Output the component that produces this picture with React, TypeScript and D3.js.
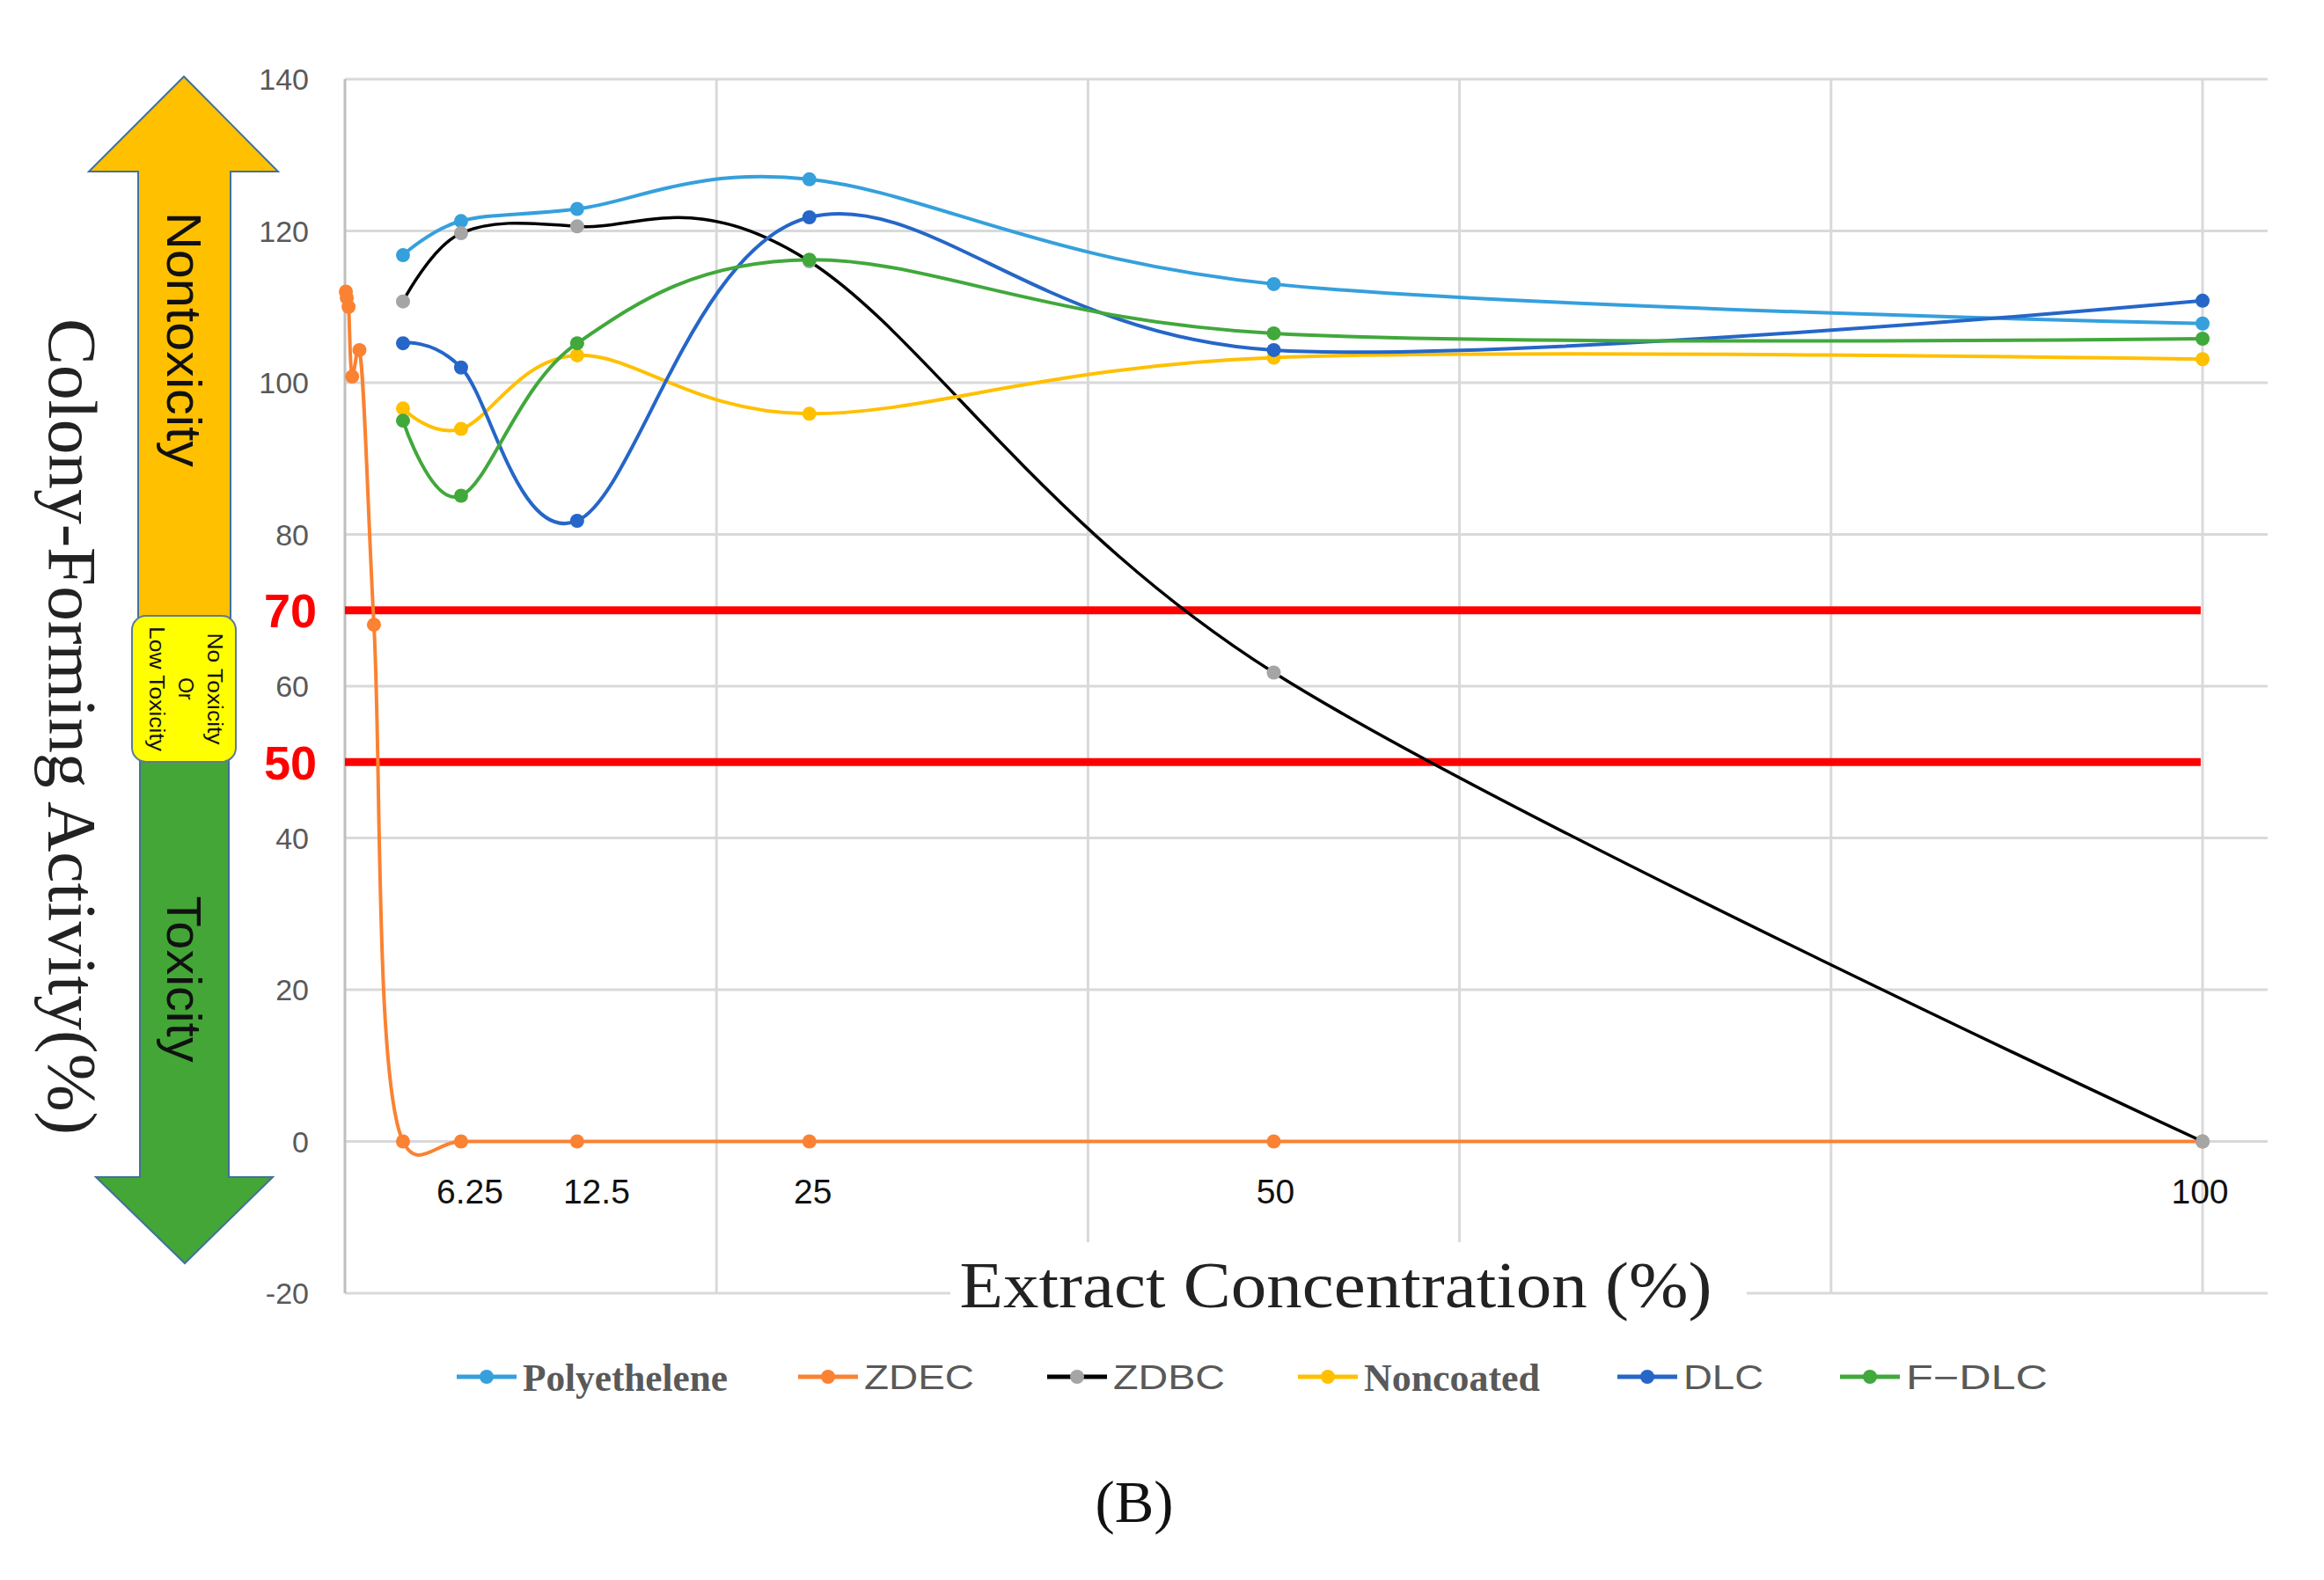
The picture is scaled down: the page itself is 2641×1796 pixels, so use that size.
import { useEffect, useRef } from "react"
import * as d3 from "d3"

// concentrations (%) shared by the test materials
const concentrations = [3.125, 6.25, 12.5, 25, 50, 100]
const polyethelene = [116.8, 121.3, 122.9, 126.8, 113.0, 107.8]
const zdbc = [110.7, 119.7, 120.6, 116.0, 61.8, 0]
const noncoated = [96.6, 93.9, 103.6, 95.9, 103.3, 103.1]
const dlc = [105.2, 102.0, 81.8, 121.8, 104.3, 110.8]
const fdlc = [95.0, 85.1, 105.2, 116.2, 106.5, 105.8]

// ZDEC was also tested at the low dilutions
const zdecConcentrations = [0.049, 0.098, 0.195, 0.39, 0.78, 1.56, 3.125, 6.25, 12.5, 25, 50, 100]
const zdec = [112.0, 111.2, 110.0, 100.8, 104.3, 68.1, 0, 0, 0, 0, 0, 0]

const yTicks = [-20, 0, 20, 40, 60, 80, 100, 120, 140]
const xGrid = [0, 20, 40, 60, 80, 100]
const xLabels = ["6.25", "12.5", "25", "50", "100"]
const thresholds = [70, 50]

const W = 2641
const H = 1796

export default function App() {
  const svgRef = useRef<SVGSVGElement>(null)

  useEffect(() => {
    if (!svgRef.current) return
    const svg = d3.select(svgRef.current)
    svg.selectAll("*").remove()

    const x = d3.scaleLinear().domain([0, 100]).range([392, 2503])
    const y = d3.scaleLinear().domain([-20, 140]).range([1470, 90])
    const xRight = x(103.5)

    const sans = "'Liberation Sans', Arial, sans-serif"
    const serif = "'Liberation Serif', 'Times New Roman', serif"

    // gridlines
    const grid = svg.append("g")
    grid.selectAll("line.h")
      .data(yTicks)
      .enter()
      .append("line")
      .attr("x1", x(0))
      .attr("x2", xRight)
      .attr("y1", d => y(d))
      .attr("y2", d => y(d))
      .attr("stroke", "#d9d9d9")
      .attr("stroke-width", 3)
    grid.selectAll("line.v")
      .data(xGrid)
      .enter()
      .append("line")
      .attr("x1", d => x(d))
      .attr("x2", d => x(d))
      .attr("y1", y(140))
      .attr("y2", y(-20))
      .attr("stroke", d => d === 0 ? "#bfbfbf" : "#d9d9d9")
      .attr("stroke-width", 3)

    // y tick labels
    svg.append("g")
      .selectAll("text")
      .data(yTicks)
      .enter()
      .append("text")
      .attr("x", 351)
      .attr("y", d => y(d))
      .attr("dy", "0.36em")
      .attr("text-anchor", "end")
      .attr("fill", "#595959")
      .style("font-family", sans)
      .style("font-size", "34px")
      .text(d => d)

    // red threshold lines and labels
    svg.append("g")
      .selectAll("line")
      .data(thresholds)
      .enter()
      .append("line")
      .attr("x1", x(0))
      .attr("x2", x(99.9))
      .attr("y1", d => y(d))
      .attr("y2", d => y(d))
      .attr("stroke", "#ff0000")
      .attr("stroke-width", 9)
    svg.append("g")
      .selectAll("text")
      .data(thresholds)
      .enter()
      .append("text")
      .attr("x", 360)
      .attr("y", d => y(d))
      .attr("dy", "0.36em")
      .attr("text-anchor", "end")
      .attr("fill", "#ff0000")
      .style("font-family", sans)
      .style("font-weight", "bold")
      .style("font-size", "54px")
      .text(d => d)

    // x labels (text boxes under the zero line)
    const labelNudge = [10, 22, 4, 2, -3]
    svg.append("g")
      .selectAll("text")
      .data(xLabels)
      .enter()
      .append("text")
      .attr("x", (d, i) => x(+d) + labelNudge[i])
      .attr("y", 1368)
      .attr("text-anchor", "middle")
      .attr("fill", "#111")
      .style("font-family", sans)
      .style("font-size", "39px")
      .text(d => d)

    // x title with white box behind it
    svg.append("rect")
      .attr("x", 1080)
      .attr("y", 1412)
      .attr("width", 905)
      .attr("height", 110)
      .attr("fill", "white")
    svg.append("text")
      .attr("x", 1518)
      .attr("y", 1486)
      .attr("text-anchor", "middle")
      .attr("fill", "#222")
      .attr("textLength", 855)
      .attr("lengthAdjust", "spacingAndGlyphs")
      .style("font-family", serif)
      .style("font-size", "75px")
      .text("Extract Concentration (%)")

    // series (smoothed like the spreadsheet lines)
    const smooth = d3.line<[number, number]>()
      .x(d => x(d[0]))
      .y(d => y(d[1]))
      .curve(d3.curveCardinal.tension(0))
    const smoothTight = d3.line<[number, number]>()
      .x(d => x(d[0]))
      .y(d => y(d[1]))
      .curve(d3.curveCatmullRom.alpha(0.3))

    const series = [
      { name: "Polyethelene", xs: concentrations, ys: polyethelene, line: "#35a0dc", marker: "#35a0dc", width: 4, gen: smooth },
      { name: "ZDEC", xs: zdecConcentrations, ys: zdec, line: "#fa8232", marker: "#fa8232", width: 4, gen: smoothTight },
      { name: "ZDBC", xs: concentrations, ys: zdbc, line: "#000000", marker: "#a5a5a5", width: 3.5, gen: smooth },
      { name: "Noncoated", xs: concentrations, ys: noncoated, line: "#ffc000", marker: "#ffc000", width: 4, gen: smooth },
      { name: "DLC", xs: concentrations, ys: dlc, line: "#2566c8", marker: "#2566c8", width: 4, gen: smooth },
      { name: "F\u2212DLC", xs: concentrations, ys: fdlc, line: "#41a83c", marker: "#41a83c", width: 4, gen: smooth },
    ]

    series.forEach(s => {
      const pts: [number, number][] = s.xs.map((c, i) => [c, s.ys[i]])
      const g = svg.append("g")
      g.append("path")
        .attr("d", s.gen(pts))
        .attr("fill", "none")
        .attr("stroke", s.line)
        .attr("stroke-width", s.width)
      g.selectAll("circle")
        .data(pts)
        .enter()
        .append("circle")
        .attr("cx", d => x(d[0]))
        .attr("cy", d => y(d[1]))
        .attr("r", 8)
        .attr("fill", s.marker)
    })

    // legend
    const legendX = [519, 907, 1190, 1475, 1838, 2091]
    const legendTextLen = [233, 125, 127, 200, 91, 161]
    const legendY = 1565
    series.forEach((s, i) => {
      const g = svg.append("g").attr("transform", `translate(${legendX[i]},${legendY})`)
      g.append("line")
        .attr("x1", 0)
        .attr("x2", 68)
        .attr("stroke", s.line)
        .attr("stroke-width", 5)
      g.append("circle").attr("cx", 34).attr("r", 8).attr("fill", s.marker)
      const isSerif = s.name === "Polyethelene" || s.name === "Noncoated"
      g.append("text")
        .attr("x", 75)
        .attr("y", 0)
        .attr("dy", "0.36em")
        .attr("fill", "#595959")
        .attr("textLength", legendTextLen[i])
        .attr("lengthAdjust", "spacingAndGlyphs")
        .style("font-family", isSerif ? serif : sans)
        .style("font-weight", isSerif ? "bold" : "normal")
        .style("font-size", isSerif ? "44px" : "38px")
        .text(s.name)
    })

    // toxicity arrow on the left
    const arrow = svg.append("g")
    arrow.append("path")
      .attr("d", "M157,702 L157,195 L101,195 L209,87 L316,195 L262,195 L262,702 Z")
      .attr("fill", "#ffc000")
      .attr("stroke", "#41719c")
      .attr("stroke-width", 2)
    arrow.append("path")
      .attr("d", "M159,864 L260,864 L260,1338 L310,1338 L210,1436 L109,1338 L159,1338 Z")
      .attr("fill", "#43a636")
      .attr("stroke", "#41719c")
      .attr("stroke-width", 2)
    arrow.append("rect")
      .attr("x", 150)
      .attr("y", 700)
      .attr("width", 118)
      .attr("height", 166)
      .attr("rx", 16)
      .attr("fill", "#ffff00")
      .attr("stroke", "#5b7b9b")
      .attr("stroke-width", 2)

    const vText = (cx: number, cy: number, txt: string, size: number, len?: number) => {
      const t = arrow.append("text")
        .attr("transform", `translate(${cx},${cy}) rotate(90)`)
        .attr("text-anchor", "middle")
        .attr("dy", "0.35em")
        .attr("fill", "#111")
        .style("font-family", sans)
        .style("font-size", `${size}px`)
        .text(txt)
      if (len) t.attr("textLength", len).attr("lengthAdjust", "spacingAndGlyphs")
    }
    vText(210, 386, "Nontoxicity", 56, 290)
    vText(210, 1113, "Toxicity", 56, 189)
    vText(244, 783, "No Toxicity", 23, 127)
    vText(211, 783, "Or", 23)
    vText(178, 783, "Low Toxicity", 23, 142)

    // y title
    svg.append("text")
      .attr("transform", "translate(56,826) rotate(90)")
      .attr("text-anchor", "middle")
      .attr("fill", "#222")
      .attr("textLength", 928)
      .attr("lengthAdjust", "spacingAndGlyphs")
      .style("font-family", serif)
      .style("font-size", "78px")
      .text("Colony-Forming Activity(%)")

    // panel label
    svg.append("text")
      .attr("x", 1289)
      .attr("y", 1730)
      .attr("text-anchor", "middle")
      .attr("fill", "#111")
      .attr("textLength", 89)
      .attr("lengthAdjust", "spacingAndGlyphs")
      .style("font-family", serif)
      .style("font-size", "68px")
      .text("(B)")
  }, [])

  return (
    <svg
      ref={svgRef}
      width={W}
      height={H}
      style={{ position: "absolute", left: 0, top: 0, background: "white" }}
    />
  )
}
